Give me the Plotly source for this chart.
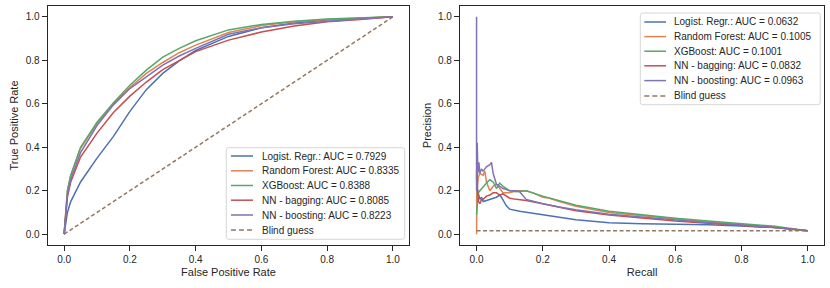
import plotly.graph_objects as go

W, H = 830, 288

# ---------------- data ----------------
model_names = ["Logist. Regr.", "Random Forest", "XGBoost", "NN - bagging", "NN - boosting"]
roc_auc = ["0.7929", "0.8335", "0.8388", "0.8085", "0.8223"]
pr_auc = ["0.0632", "0.1005", "0.1001", "0.0832", "0.0963"]
guess_label = "Blind guess"
colors = ["#4C72B0", "#DD8452", "#55A868", "#C44E52", "#8172B3"]
guess_color = "#937860"

# ROC curves (false positive rate -> true positive rate)
roc_fpr = [0, 0.01, 0.02, 0.05, 0.1, 0.15, 0.2, 0.25, 0.3, 0.35, 0.4, 0.5, 0.6, 0.7, 0.8, 0.9, 1.0]
roc_tpr_lr = [0, 0.10, 0.15, 0.24, 0.35, 0.45, 0.565, 0.665, 0.74, 0.797, 0.845, 0.91, 0.95, 0.972, 0.985, 0.993, 1.0]
roc_tpr_rf = [0, 0.20, 0.27, 0.395, 0.51, 0.60, 0.675, 0.74, 0.79, 0.835, 0.87, 0.928, 0.96, 0.977, 0.988, 0.995, 1.0]
roc_tpr_xgb = [0, 0.20, 0.27, 0.40, 0.515, 0.605, 0.685, 0.755, 0.815, 0.855, 0.89, 0.94, 0.965, 0.98, 0.99, 0.996, 1.0]
roc_tpr_bag = [0, 0.17, 0.24, 0.355, 0.465, 0.56, 0.635, 0.70, 0.757, 0.80, 0.84, 0.893, 0.93, 0.958, 0.977, 0.988, 1.0]
roc_tpr_boost = [0, 0.18, 0.25, 0.375, 0.50, 0.595, 0.67, 0.725, 0.778, 0.82, 0.855, 0.92, 0.95, 0.968, 0.98, 0.99, 1.0]
roc_guess_x = [0, 1]
roc_guess_y = [0, 1]

# Precision-recall curves
pr_rec_lr = [0, 0.002, 0.005, 0.01, 0.015, 0.02, 0.03, 0.04, 0.05, 0.06, 0.07, 0.075, 0.09, 0.1, 0.13, 0.15, 0.2, 0.25, 0.3, 0.35, 0.4, 0.5, 0.6, 0.7, 0.8, 0.9, 1.0]
pr_prec_lr = [0.15, 0.21, 0.19, 0.16, 0.17, 0.15, 0.155, 0.16, 0.165, 0.17, 0.18, 0.17, 0.13, 0.115, 0.105, 0.10, 0.088, 0.078, 0.066, 0.058, 0.052, 0.048, 0.046, 0.043, 0.037, 0.03, 0.016]
pr_rec_rf = [0, 0.001, 0.005, 0.01, 0.02, 0.025, 0.03, 0.04, 0.05, 0.06, 0.07, 0.08, 0.1, 0.12, 0.15, 0.17, 0.2, 0.22, 0.25, 0.3, 0.4, 0.5, 0.6, 0.7, 0.8, 0.9, 1.0]
pr_prec_rf = [0.0, 0.2, 0.26, 0.28, 0.27, 0.29, 0.24, 0.2, 0.22, 0.23, 0.21, 0.19, 0.19, 0.2, 0.2, 0.19, 0.17, 0.165, 0.15, 0.128, 0.1, 0.085, 0.07, 0.056, 0.044, 0.032, 0.016]
pr_rec_xgb = [0, 0.002, 0.005, 0.01, 0.02, 0.03, 0.04, 0.05, 0.06, 0.07, 0.08, 0.1, 0.12, 0.15, 0.2, 0.25, 0.3, 0.4, 0.5, 0.6, 0.7, 0.8, 0.9, 1.0]
pr_prec_xgb = [0.09, 0.15, 0.19, 0.2, 0.22, 0.235, 0.25, 0.24, 0.21, 0.235, 0.22, 0.2, 0.195, 0.2, 0.175, 0.155, 0.133, 0.105, 0.088, 0.073, 0.06, 0.048, 0.036, 0.016]
pr_rec_bag = [0, 0.001, 0.003, 0.006, 0.01, 0.015, 0.02, 0.03, 0.04, 0.05, 0.06, 0.07, 0.08, 0.1, 0.12, 0.15, 0.2, 0.25, 0.3, 0.4, 0.5, 0.6, 0.7, 0.8, 0.9, 1.0]
pr_prec_bag = [0.25, 0.36, 0.2, 0.15, 0.14, 0.16, 0.16, 0.175, 0.18, 0.19, 0.19, 0.18, 0.185, 0.165, 0.16, 0.155, 0.14, 0.125, 0.108, 0.088, 0.074, 0.06, 0.05, 0.04, 0.03, 0.016]
pr_rec_boost = [0, 0, 0.002, 0.004, 0.007, 0.01, 0.015, 0.02, 0.03, 0.04, 0.045, 0.05, 0.055, 0.06, 0.07, 0.08, 0.09, 0.1, 0.12, 0.13, 0.15, 0.2, 0.25, 0.3, 0.4, 0.5, 0.6, 0.7, 0.8, 0.9, 1.0]
pr_prec_boost = [1.0, 0.2, 0.42, 0.28, 0.33, 0.28, 0.30, 0.29, 0.31, 0.32, 0.33, 0.28, 0.25, 0.23, 0.22, 0.21, 0.205, 0.2, 0.2, 0.195, 0.16, 0.14, 0.125, 0.112, 0.092, 0.078, 0.063, 0.052, 0.042, 0.031, 0.016]
pr_guess_x = [0, 1]
pr_guess_y = [0.0155, 0.0155]

tick_vals = [0.0, 0.2, 0.4, 0.6, 0.8, 1.0]
tick_text = ["0.0", "0.2", "0.4", "0.6", "0.8", "1.0"]

# ---------------- figure ----------------
FONT = "Liberation Sans, Arial, sans-serif"
TXT = "#262626"
fig = go.Figure()

roc_y = [roc_tpr_lr, roc_tpr_rf, roc_tpr_xgb, roc_tpr_bag, roc_tpr_boost]
for yv, c in zip(roc_y, colors):
    fig.add_trace(go.Scatter(x=roc_fpr, y=yv, mode="lines", line=dict(color=c, width=1.5),
                             xaxis="x", yaxis="y", showlegend=False, hoverinfo="skip"))
fig.add_trace(go.Scatter(x=roc_guess_x, y=roc_guess_y, mode="lines",
                         line=dict(color=guess_color, width=1.5, dash="4px,2.5px"),
                         xaxis="x", yaxis="y", showlegend=False, hoverinfo="skip"))

pr_x = [pr_rec_lr, pr_rec_rf, pr_rec_xgb, pr_rec_bag, pr_rec_boost]
pr_y = [pr_prec_lr, pr_prec_rf, pr_prec_xgb, pr_prec_bag, pr_prec_boost]
for xv, yv, c in zip(pr_x, pr_y, colors):
    fig.add_trace(go.Scatter(x=xv, y=yv, mode="lines", line=dict(color=c, width=1.5),
                             xaxis="x2", yaxis="y2", showlegend=False, hoverinfo="skip"))
fig.add_trace(go.Scatter(x=pr_guess_x, y=pr_guess_y, mode="lines",
                         line=dict(color=guess_color, width=1.5, dash="4px,2.5px"),
                         xaxis="x2", yaxis="y2", showlegend=False, hoverinfo="skip"))


def px(v):
    return v / W


def py(v):
    return 1 - v / H


axis_common = dict(
    range=[-0.05, 1.05], showline=True, mirror=True, linecolor=TXT, linewidth=1.2,
    ticks="outside", ticklen=5, tickwidth=1, tickcolor=TXT, automargin=False,
    tickvals=tick_vals, ticktext=tick_text, showgrid=False, zeroline=False,
    tickfont=dict(family=FONT, size=10, color=TXT),
)

y_dom = [py(245), py(6)]
fig.update_layout(
    width=W, height=H, margin=dict(l=0, r=0, t=0, b=0, autoexpand=False),
    paper_bgcolor="white", plot_bgcolor="white",
    font=dict(family=FONT, color=TXT),
    xaxis=dict(axis_common, domain=[px(47.7), px(409.3)], anchor="y",
               title=dict(text="False Positive Rate", font=dict(family=FONT, size=11, color=TXT), standoff=4)),
    yaxis=dict(axis_common, domain=y_dom, anchor="x",
               title=dict(text="True Positive Rate", font=dict(family=FONT, size=11, color=TXT), standoff=4)),
    xaxis2=dict(axis_common, domain=[px(460), px(824.3)], anchor="y2",
                title=dict(text="Recall", font=dict(family=FONT, size=11, color=TXT), standoff=4)),
    yaxis2=dict(axis_common, domain=y_dom, anchor="x2",
                title=dict(text="Precision", font=dict(family=FONT, size=11, color=TXT), standoff=4)),
)


def rounded_rect(x0, y0, x1, y1, r=2.5):
    rx, ry = r / W, r / H
    X0, X1 = px(x0), px(x1)
    Y0, Y1 = py(y0), py(y1)  # Y0 top, Y1 bottom
    return (f"M {X0+rx},{Y0} L {X1-rx},{Y0} Q {X1},{Y0} {X1},{Y0-ry} "
            f"L {X1},{Y1+ry} Q {X1},{Y1} {X1-rx},{Y1} L {X0+rx},{Y1} "
            f"Q {X0},{Y1} {X0},{Y1+ry} L {X0},{Y0-ry} Q {X0},{Y0} {X0+rx},{Y0} Z")


def add_legend(box, line_x, text_x, ys, aucs):
    fig.add_shape(type="path", path=rounded_rect(*box), xref="paper", yref="paper",
                  fillcolor="rgba(255,255,255,0.85)", line=dict(color="#cccccc", width=0.8), layer="above")
    labels = [f"{n}: AUC = {a}" for n, a in zip(model_names, aucs)] + [guess_label]
    cols = colors + [guess_color]
    for i, (lab, c, yy) in enumerate(zip(labels, cols, ys)):
        dash = "5px,3px" if i == len(labels) - 1 else "solid"
        fig.add_shape(type="line", xref="paper", yref="paper",
                      x0=px(line_x[0]), x1=px(line_x[1]), y0=py(yy), y1=py(yy),
                      line=dict(color=c, width=1.5, dash=dash), layer="above")
        fig.add_annotation(x=px(text_x), y=py(yy), xref="paper", yref="paper",
                           text=lab, showarrow=False, xanchor="left", yanchor="middle",
                           font=dict(family=FONT, size=10, color=TXT))


add_legend((226.3, 147.7, 404.7, 239.3), (231, 253), 259.5,
           [156, 170.8, 185.5, 200.2, 215.0, 230.0], roc_auc)
add_legend((640.3, 13, 820.3, 104.7), (644.3, 666), 672.0,
           [22, 36.6, 51.2, 65.8, 80.6, 96.0], pr_auc)

fig.write_html("out.html", config={"displayModeBar": False},
               post_script="document.body.style.margin='0';document.body.style.padding='0';")
